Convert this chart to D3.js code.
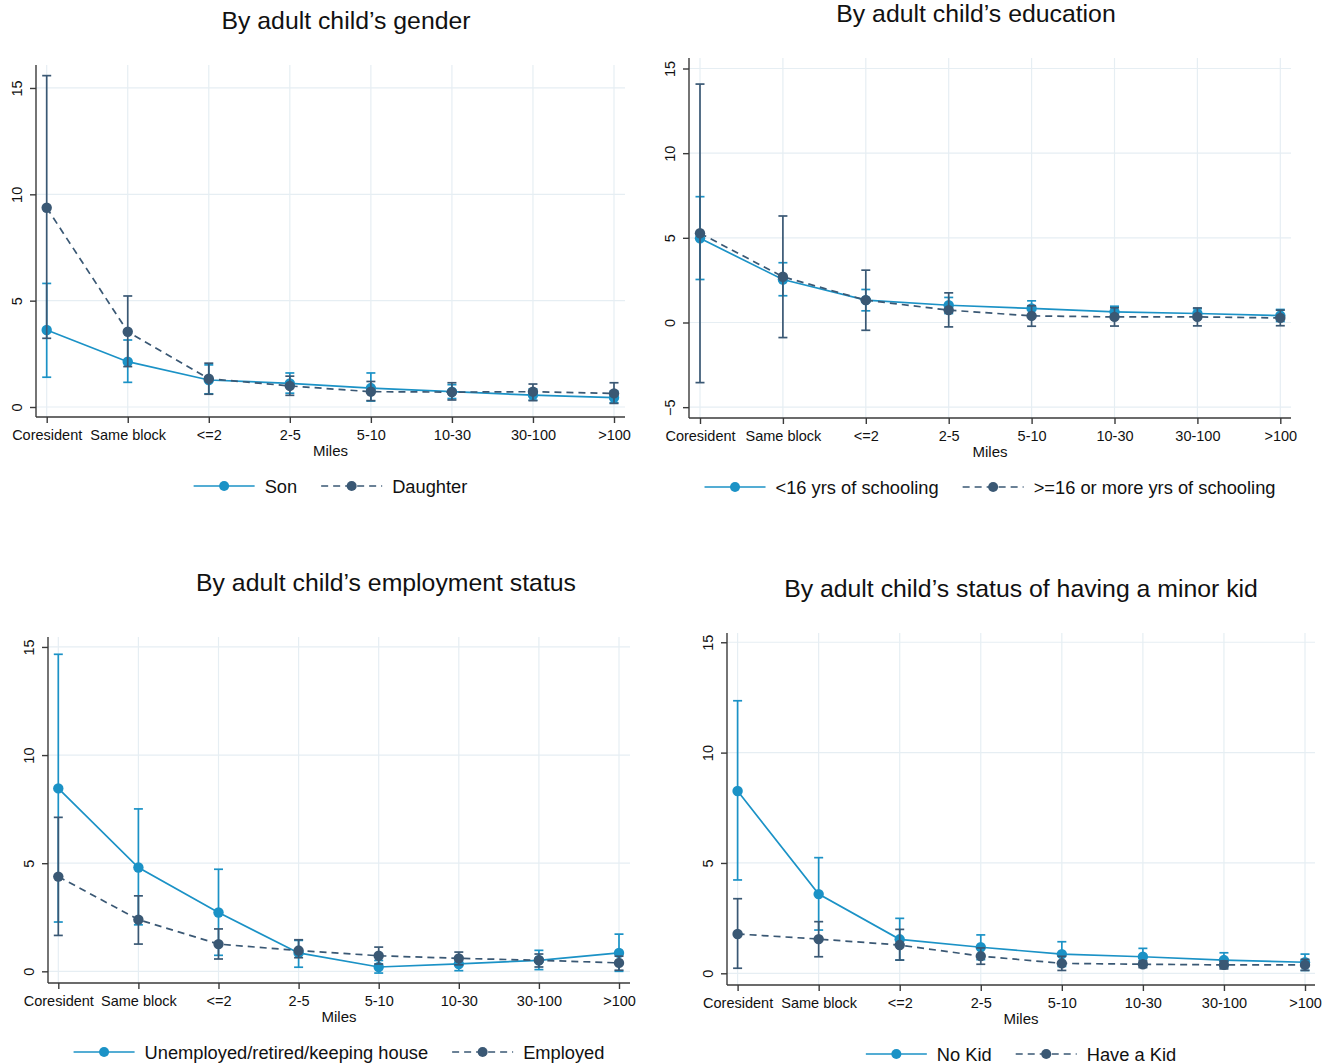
<!DOCTYPE html>
<html>
<head>
<meta charset="utf-8">
<script src="https://cdn.jsdelivr.net/npm/d3@7"></script>
<style>
  body { margin: 0; background: #fff; }
  svg text { font-family: "Liberation Sans", Arial, sans-serif; fill: #111; }
</style>
</head>
<body>
<svg id="root" width="1335" height="1064"></svg>
<script>
/* global d3 */

const categories = ['Coresident', 'Same block', '<=2', '2-5', '5-10', '10-30', '30-100', '>100']

// By gender
const sonEst = [3.62, 2.13, 1.27, 1.11, 0.89, 0.72, 0.56, 0.44]
const sonLo = [1.40, 1.16, 0.62, 0.65, 0.28, 0.40, 0.32, 0.20]
const sonHi = [5.81, 3.15, 1.98, 1.60, 1.60, 1.05, 0.85, 0.75]
const daughterEst = [9.37, 3.54, 1.33, 0.99, 0.72, 0.70, 0.72, 0.64]
const daughterLo = [3.23, 1.90, 0.60, 0.55, 0.30, 0.33, 0.30, 0.17]
const daughterHi = [15.58, 5.22, 2.06, 1.45, 1.20, 1.14, 1.08, 1.14]

// By education
const lowEduEst = [4.97, 2.54, 1.32, 1.02, 0.83, 0.63, 0.53, 0.41]
const lowEduLo = [2.54, 1.58, 0.69, 0.53, 0.38, 0.30, 0.24, 0.06]
const lowEduHi = [7.43, 3.53, 1.95, 1.48, 1.28, 0.96, 0.81, 0.77]
const highEduEst = [5.27, 2.70, 1.32, 0.73, 0.39, 0.33, 0.33, 0.27]
const highEduLo = [-3.55, -0.89, -0.46, -0.26, -0.22, -0.21, -0.20, -0.19]
const highEduHi = [14.08, 6.29, 3.09, 1.75, 0.99, 0.87, 0.86, 0.73]

// By employment
const unempEst = [8.46, 4.80, 2.72, 0.85, 0.20, 0.34, 0.51, 0.85]
const unempLo = [2.28, 2.15, 0.74, 0.19, -0.08, 0.03, 0.08, 0.00]
const unempHi = [14.66, 7.51, 4.72, 1.43, 0.50, 0.62, 0.97, 1.72]
const employedEst = [4.38, 2.39, 1.26, 0.96, 0.72, 0.60, 0.51, 0.39]
const employedLo = [1.66, 1.26, 0.57, 0.63, 0.34, 0.30, 0.20, 0.05]
const employedHi = [7.12, 3.49, 1.96, 1.46, 1.12, 0.89, 0.80, 0.70]

// By minor kid
const noKidEst = [8.26, 3.59, 1.54, 1.18, 0.87, 0.75, 0.60, 0.50]
const noKidLo = [4.23, 1.96, 0.60, 0.62, 0.31, 0.37, 0.27, 0.13]
const noKidHi = [12.35, 5.24, 2.49, 1.74, 1.43, 1.13, 0.93, 0.87]
const haveKidEst = [1.78, 1.55, 1.28, 0.78, 0.45, 0.41, 0.38, 0.38]
const haveKidLo = [0.23, 0.75, 0.60, 0.41, 0.13, 0.26, 0.20, 0.13]
const haveKidHi = [3.38, 2.34, 1.99, 1.15, 0.77, 0.56, 0.56, 0.63]

const yTicksPos = [0, 5, 10, 15]
const yTicksEdu = [-5, 0, 5, 10, 15]

const lightBlue = '#1b92c6'
const darkBlue = '#3a5874'
const gridColor = '#e6eef3'
const axisColor = '#3a3a3a'

const panels = [
  {
    title: 'By adult child\u2019s gender', titleX: 346, titleY: 29,
    left: 36, right: 625, top: 65, bottom: 417, padL: 10.7, padR: 11,
    yDomain: [-0.47, 16.08], yTicks: yTicksPos,
    series: [
      { name: 'Son', est: sonEst, lo: sonLo, hi: sonHi, color: lightBlue, dash: null },
      { name: 'Daughter', est: daughterEst, lo: daughterLo, hi: daughterHi, color: darkBlue, dash: '7,5' }
    ]
  },
  {
    title: 'By adult child\u2019s education', titleX: 976, titleY: 22,
    left: 689, right: 1291, top: 58, bottom: 418, padL: 11, padR: 10.7,
    yDomain: [-5.64, 15.62], yTicks: yTicksEdu,
    series: [
      { name: '<16 yrs of schooling', est: lowEduEst, lo: lowEduLo, hi: lowEduHi, color: lightBlue, dash: null },
      { name: '>=16 or more yrs of schooling', est: highEduEst, lo: highEduLo, hi: highEduHi, color: darkBlue, dash: '7,5' }
    ]
  },
  {
    title: 'By adult child\u2019s employment status', titleX: 386, titleY: 591,
    left: 48, right: 630, top: 637, bottom: 983, padL: 10.3, padR: 11,
    yDomain: [-0.54, 15.46], yTicks: yTicksPos,
    series: [
      { name: 'Unemployed/retired/keeping house', est: unempEst, lo: unempLo, hi: unempHi, color: lightBlue, dash: null },
      { name: 'Employed', est: employedEst, lo: employedLo, hi: employedHi, color: darkBlue, dash: '7,5' }
    ]
  },
  {
    title: 'By adult child\u2019s status of having a minor kid', titleX: 1021, titleY: 597,
    left: 727, right: 1315, top: 633, bottom: 985, padL: 10.6, padR: 10,
    yDomain: [-0.53, 15.42], yTicks: yTicksPos,
    series: [
      { name: 'No Kid', est: noKidEst, lo: noKidLo, hi: noKidHi, color: lightBlue, dash: null },
      { name: 'Have a Kid', est: haveKidEst, lo: haveKidLo, hi: haveKidHi, color: darkBlue, dash: '7,5' }
    ]
  }
]

const svg = d3.select('#root')

panels.forEach(p => {
  const g = svg.append('g')

  const x = d3.scalePoint()
    .domain(categories)
    .range([p.left + p.padL, p.right - p.padR])

  const y = d3.scaleLinear()
    .domain(p.yDomain)
    .range([p.bottom, p.top])

  // grid
  g.selectAll('.hgrid')
    .data(p.yTicks)
    .enter()
    .append('line')
    .attr('x1', p.left)
    .attr('x2', p.right)
    .attr('y1', d => y(d))
    .attr('y2', d => y(d))
    .attr('stroke', gridColor)
    .attr('stroke-width', 1.2)

  g.selectAll('.vgrid')
    .data(categories)
    .enter()
    .append('line')
    .attr('x1', d => x(d))
    .attr('x2', d => x(d))
    .attr('y1', p.top)
    .attr('y2', p.bottom)
    .attr('stroke', gridColor)
    .attr('stroke-width', 1.2)

  // axes
  const xAxis = g.append('g')
    .attr('transform', 'translate(0,' + p.bottom + ')')
    .call(d3.axisBottom(x).tickSize(6).tickSizeOuter(0))
  xAxis.select('.domain').attr('d', 'M' + p.left + ',0H' + p.right)
  xAxis.selectAll('text')
    .attr('y', 13)
    .style('font-size', '14.5px')
    .style('font-family', '"Liberation Sans", Arial, sans-serif')

  const yAxis = g.append('g')
    .attr('transform', 'translate(' + p.left + ',0)')
    .call(d3.axisLeft(y).tickValues(p.yTicks).tickSize(6).tickSizeOuter(0))
  yAxis.select('.domain').attr('d', 'M0,' + p.top + 'V' + p.bottom)
  yAxis.selectAll('text')
    .attr('x', null)
    .attr('dy', null)
    .attr('text-anchor', 'middle')
    .attr('transform', 'translate(-14,0) rotate(-90)')
    .style('font-size', '14.5px')
    .style('font-family', '"Liberation Sans", Arial, sans-serif')

  g.selectAll('.domain, .tick line')
    .attr('stroke', axisColor)
    .attr('stroke-width', 1.4)
  g.selectAll('.tick text').attr('fill', '#111')

  // axis title
  g.append('text')
    .attr('x', (p.left + p.right) / 2)
    .attr('y', p.bottom + 39)
    .attr('text-anchor', 'middle')
    .style('font-size', '15px')
    .text('Miles')

  // chart title
  g.append('text')
    .attr('x', p.titleX)
    .attr('y', p.titleY)
    .attr('text-anchor', 'middle')
    .style('font-size', '24.8px')
    .text(p.title)

  // series
  const line = d3.line()
    .x((d, i) => x(categories[i]))
    .y(d => y(d))

  p.series.forEach(s => {
    const sg = g.append('g')

    sg.append('path')
      .datum(s.est)
      .attr('d', line)
      .attr('fill', 'none')
      .attr('stroke', s.color)
      .attr('stroke-width', 1.7)
      .attr('stroke-dasharray', s.dash)

    const bars = sg.selectAll('.ci')
      .data(categories)
      .enter()
      .append('g')

    bars.append('line')
      .attr('x1', d => x(d))
      .attr('x2', d => x(d))
      .attr('y1', (d, i) => y(s.lo[i]))
      .attr('y2', (d, i) => y(s.hi[i]))
      .attr('stroke', s.color)
      .attr('stroke-width', 1.7)

    bars.append('line')
      .attr('x1', d => x(d) - 4.5)
      .attr('x2', d => x(d) + 4.5)
      .attr('y1', (d, i) => y(s.lo[i]))
      .attr('y2', (d, i) => y(s.lo[i]))
      .attr('stroke', s.color)
      .attr('stroke-width', 1.7)

    bars.append('line')
      .attr('x1', d => x(d) - 4.5)
      .attr('x2', d => x(d) + 4.5)
      .attr('y1', (d, i) => y(s.hi[i]))
      .attr('y2', (d, i) => y(s.hi[i]))
      .attr('stroke', s.color)
      .attr('stroke-width', 1.7)

    sg.selectAll('.pt')
      .data(s.est)
      .enter()
      .append('circle')
      .attr('cx', (d, i) => x(categories[i]))
      .attr('cy', d => y(d))
      .attr('r', 5.2)
      .attr('fill', s.color)
  })

  // legend
  const lg = g.append('g')
  const ly = p.bottom + 69
  let cursor = 0
  p.series.forEach((s, k) => {
    const item = lg.append('g').attr('transform', 'translate(' + cursor + ',0)')
    item.append('line')
      .attr('x1', 0).attr('x2', 61)
      .attr('y1', ly).attr('y2', ly)
      .attr('stroke', s.color)
      .attr('stroke-width', 1.7)
      .attr('stroke-dasharray', s.dash)
    item.append('circle')
      .attr('cx', 30.5).attr('cy', ly).attr('r', 5)
      .attr('fill', s.color)
    const t = item.append('text')
      .attr('x', 71)
      .attr('y', ly + 6.5)
      .style('font-size', '18.3px')
      .text(s.name)
    cursor += 71 + t.node().getComputedTextLength() + (k === 0 ? 24 : 0)
  })
  const lgWidth = cursor
  lg.attr('transform', 'translate(' + ((p.left + p.right) / 2 - lgWidth / 2) + ',0)')
})
</script>
</body>
</html>
